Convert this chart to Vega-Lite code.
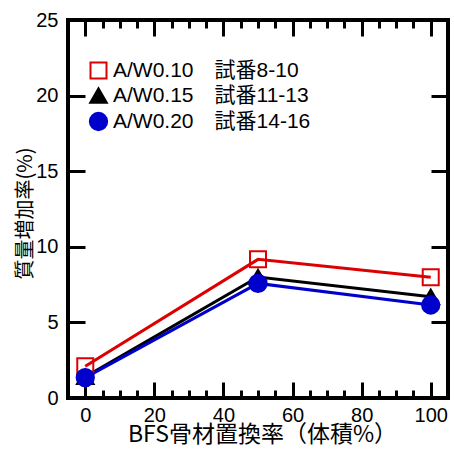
{
  "$schema": "https://vega.github.io/schema/vega-lite/v6.json",
  "autosize": "none",
  "padding": {"left": 68, "top": 20, "right": 6, "bottom": 51},
  "width": 380,
  "height": 378,
  "background": "white",
  "view": {"stroke": "black", "strokeWidth": 4},
  "config": {
    "axis": {"grid": false, "domain": false, "labelFont": "Liberation Sans", "labelFontSize": 20, "labelColor": "black", "tickColor": "black", "tickWidth": 3, "titleColor": "black", "titleFontWeight": "normal", "labelFlush": false},
    "legend": {"orient": "none", "legendX": 20, "legendY": 40, "labelFont": "Liberation Sans, Noto Sans CJK JP", "labelFontSize": 21, "labelColor": "black", "labelOffset": 4, "rowPadding": 1, "symbolStrokeWidth": 2, "padding": 0, "labelLimit": 300}
  },
  "data": {"values": [
    {"series": "A/W0.10　試番8-10", "bfs": 0, "gain": 2.1},
    {"series": "A/W0.10　試番8-10", "bfs": 50, "gain": 9.17},
    {"series": "A/W0.10　試番8-10", "bfs": 100, "gain": 7.98},
    {"series": "A/W0.15　試番11-13", "bfs": 0, "gain": 1.4},
    {"series": "A/W0.15　試番11-13", "bfs": 50, "gain": 8.0},
    {"series": "A/W0.15　試番11-13", "bfs": 100, "gain": 6.7},
    {"series": "A/W0.20　試番14-16", "bfs": 0, "gain": 1.35},
    {"series": "A/W0.20　試番14-16", "bfs": 50, "gain": 7.58},
    {"series": "A/W0.20　試番14-16", "bfs": 100, "gain": 6.15}
  ]},
  "resolve": {"axis": {"x": "independent", "y": "independent"}},
  "layer": [
    {
      "mark": {"type": "line", "strokeWidth": 3},
      "encoding": {
        "x": {"field": "bfs", "type": "quantitative", "scale": {"domain": [-5, 105], "nice": false, "zero": false},
          "axis": {"orient": "bottom", "values": [0, 20, 40, 60, 80, 100], "ticks": false, "labelPadding": 7,
            "title": "BFS骨材置換率（体積%）", "titleFont": "Noto Sans CJK JP", "titleFontSize": 23,
            "titleX": 194, "titleY": 36, "titleBaseline": "middle", "titleAlign": "center"}},
        "y": {"field": "gain", "type": "quantitative", "scale": {"domain": [0, 25], "nice": false},
          "axis": {"orient": "left", "values": [0, 5, 10, 15, 20, 25], "ticks": false, "labelPadding": 10,
            "title": "質量増加率(%)", "titleFont": "Noto Sans CJK JP", "titleFontSize": 20,
            "titleX": -43, "titleY": 193, "titleAngle": -90, "titleBaseline": "middle", "titleAlign": "center"}},
        "color": {"field": "series", "type": "nominal",
          "scale": {"domain": ["A/W0.15　試番11-13", "A/W0.10　試番8-10", "A/W0.20　試番14-16"], "range": ["black", "#dd0000", "#0000cc"]},
          "legend": null}
      }
    },
    {
      "mark": {"type": "point", "opacity": 1, "strokeWidth": 2},
      "encoding": {
        "x": {"field": "bfs", "type": "quantitative",
          "axis": {"orient": "bottom", "values": [0, 20, 40, 60, 80, 100], "labels": false, "tickSize": -16, "title": null}},
        "y": {"field": "gain", "type": "quantitative",
          "axis": {"orient": "right", "values": [5, 10, 15, 20], "labels": false, "tickSize": -17, "title": null}},
        "shape": {"field": "series", "type": "nominal",
          "scale": {"domain": ["A/W0.10　試番8-10", "A/W0.15　試番11-13", "A/W0.20　試番14-16"], "range": ["square", "triangle-up", "circle"]},
          "legend": {"title": null}},
        "fill": {"field": "series", "type": "nominal",
          "scale": {"domain": ["A/W0.10　試番8-10", "A/W0.15　試番11-13", "A/W0.20　試番14-16"], "range": ["transparent", "black", "#0000cc"]},
          "legend": {"title": null}},
        "stroke": {"field": "series", "type": "nominal",
          "scale": {"domain": ["A/W0.10　試番8-10", "A/W0.15　試番11-13", "A/W0.20　試番14-16"], "range": ["#dd0000", "black", "#0000cc"]},
          "legend": {"title": null}},
        "size": {"field": "series", "type": "nominal",
          "scale": {"domain": ["A/W0.10　試番8-10", "A/W0.15　試番11-13", "A/W0.20　試番14-16"], "range": [256, 300, 400]},
          "legend": {"title": null}}
      }
    },
    {
      "mark": {"type": "point", "opacity": 0},
      "encoding": {
        "x": {"field": "bfs", "type": "quantitative",
          "axis": {"orient": "bottom", "values": [5, 10, 15, 25, 30, 35, 45, 50, 55, 65, 70, 75, 85, 90, 95], "labels": false, "tickSize": -8, "title": null}},
        "y": {"field": "gain", "type": "quantitative",
          "axis": {"orient": "left", "values": [5, 10, 15, 20], "labels": false, "tickSize": -17, "title": null}}
      }
    },
    {
      "mark": {"type": "point", "opacity": 0},
      "encoding": {
        "x": {"field": "bfs", "type": "quantitative",
          "axis": {"orient": "top", "values": [0, 20, 40, 60, 80, 100], "labels": false, "tickSize": -16, "title": null}}
      }
    },
    {
      "mark": {"type": "point", "opacity": 0},
      "encoding": {
        "x": {"field": "bfs", "type": "quantitative",
          "axis": {"orient": "top", "values": [5, 10, 15, 25, 30, 35, 45, 50, 55, 65, 70, 75, 85, 90, 95], "labels": false, "tickSize": -8, "title": null}}
      }
    }
  ]
}
